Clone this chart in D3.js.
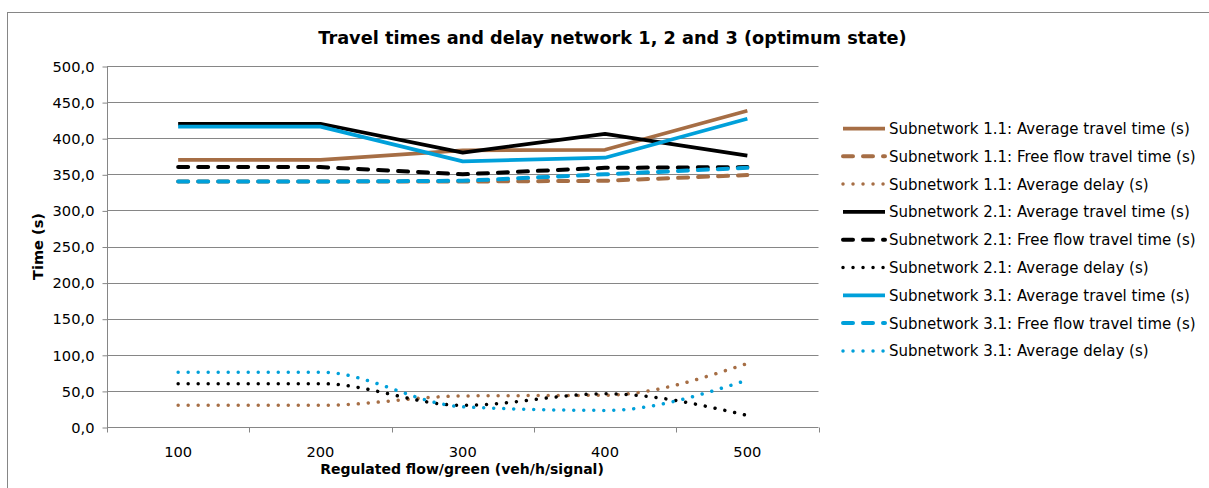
<!DOCTYPE html>
<html><head><meta charset="utf-8">
<script src="https://cdn.jsdelivr.net/npm/d3@7"></script>
<style>
html,body{margin:0;padding:0;background:#fff;}
svg{display:block;font-family:"DejaVu Sans",Verdana,sans-serif;}
</style></head>
<body><svg id="c" width="1209" height="488"></svg>
<script>
const categories = [100, 200, 300, 400, 500];
const yTicks = [0, 50, 100, 150, 200, 250, 300, 350, 400, 450, 500];
const s11Avg   = [370, 370, 383, 384, 438];
const s11Free  = [340, 340, 340, 341, 349];
const s11Delay = [30, 30, 43, 44, 88];
const s21Avg   = [420, 420, 380, 406, 376];
const s21Free  = [360, 360, 350, 359, 360];
const s21Delay = [60, 60, 30, 46, 16];
const s31Avg   = [416, 416, 368, 373, 427];
const s31Free  = [340, 340, 341, 350, 359];
const s31Delay = [76, 76, 28, 23, 65];
const seriesNames = [
  "Subnetwork 1.1: Average travel time (s)",
  "Subnetwork 1.1: Free flow travel time (s)",
  "Subnetwork 1.1: Average delay (s)",
  "Subnetwork 2.1: Average travel time (s)",
  "Subnetwork 2.1: Free flow travel time (s)",
  "Subnetwork 2.1: Average delay (s)",
  "Subnetwork 3.1: Average travel time (s)",
  "Subnetwork 3.1: Free flow travel time (s)",
  "Subnetwork 3.1: Average delay (s)"
];
const title = "Travel times and delay network 1, 2 and 3 (optimum state)";
const xTitle = "Regulated flow/green (veh/h/signal)";
const yTitle = "Time (s)";

const BROWN = "#A66E45", BLACK = "#000000", BLUE = "#00A0DA";
const values = [s11Avg, s11Free, s11Delay, s21Avg, s21Free, s21Delay, s31Avg, s31Free, s31Delay];
const colors = [BROWN, BROWN, BROWN, BLACK, BLACK, BLACK, BLUE, BLUE, BLUE];
const kinds = ["solid","dash","dot","solid","dash","dot","solid","dash","dot"];

const svg = d3.select("#c");

// size fitting: scale font so a given text reaches target width
function fitSize(str, bold, target) {
  const t = svg.append("text").attr("font-size", 100).attr("font-weight", bold ? "bold" : "normal").text(str);
  const w = t.node().getComputedTextLength();
  t.remove();
  return 100 * target / w;
}
const titleSize = fitSize(title, true, 589);
const xTitleSize = fitSize(xTitle, true, 284);
const yTitleSize = fitSize(yTitle, true, 67);
const legendSize = fitSize(seriesNames[1], false, 307);
const tickSize = fitSize("500,0", false, 42);

// outer border
svg.append("rect").attr("x", 7.5).attr("y", 12.5).attr("width", 1220).attr("height", 500)
  .attr("fill", "#fff").attr("stroke", "#868686").attr("stroke-width", 1);

const L = 107, R = 818.5, T = 66, B = 427;
const x = d3.scaleBand().domain(categories).range([L, R]);
const y = d3.scaleLinear().domain([0, 500]).range([B, T]);
const cx = v => x(v) + x.bandwidth() / 2;

// gridlines
svg.append("g").selectAll("line").data(yTicks.filter(d => d > 0)).join("line")
  .attr("x1", L).attr("x2", R).attr("y1", d => Math.round(y(d)) + 0.5).attr("y2", d => Math.round(y(d)) + 0.5)
  .attr("stroke", "#868686").attr("stroke-width", 1);

// y axis
const fmt = d => d3.format(".1f")(d).replace(".", ",");
const yAxis = svg.append("g").attr("transform", `translate(${L + 0.5},0.5)`)
  .call(d3.axisLeft(y).tickValues(yTicks).tickFormat(fmt).tickSize(5).tickPadding(8));
yAxis.select(".domain").attr("stroke", "#868686").attr("d", `M0,${T}V${B}`);
yAxis.selectAll(".tick line").attr("stroke", "#868686");
yAxis.selectAll(".tick text").attr("font-size", tickSize).attr("fill", "#000")
  .attr("font-family", "\"DejaVu Sans\",Verdana,sans-serif");

// x axis
const xAxisG = svg.append("g").attr("transform", `translate(0,${Math.round(B) + 0.5})`);
xAxisG.append("line").attr("x1", L).attr("x2", R).attr("stroke", "#868686");
const bounds = categories.map(c => x(c)).concat([R]);
xAxisG.selectAll("line.tk").data(bounds).join("line").attr("class", "tk")
  .attr("x1", d => Math.round(d) + 0.5).attr("x2", d => Math.round(d) + 0.5).attr("y1", 0).attr("y2", 5)
  .attr("stroke", "#868686");
xAxisG.selectAll("text").data(categories).join("text")
  .attr("x", d => cx(d)).attr("y", 29).attr("text-anchor", "middle").attr("font-size", tickSize).text(d => d);

// titles
svg.append("text").attr("x", 612.5).attr("y", 44).attr("text-anchor", "middle")
  .attr("font-weight", "bold").attr("font-size", titleSize).text(title);
svg.append("text").attr("x", 462).attr("y", 474).attr("text-anchor", "middle")
  .attr("font-weight", "bold").attr("font-size", xTitleSize).text(xTitle);
svg.append("text").attr("transform", `translate(43,246.5) rotate(-90)`).attr("text-anchor", "middle")
  .attr("font-weight", "bold").attr("font-size", yTitleSize).text(yTitle);

function styleLine(sel, kind, color) {
  sel.attr("fill", "none").attr("stroke", color);
  if (kind === "solid") sel.attr("stroke-width", 3.75).attr("stroke-linejoin", "round");
  else if (kind === "dash") sel.attr("stroke-width", 4).attr("stroke-dasharray", "10 10").attr("stroke-linecap", "round");
  else sel.attr("stroke-width", 3.5).attr("stroke-dasharray", "0.01 10").attr("stroke-linecap", "round");
}

const lineStraight = d3.line().x((d, i) => cx(categories[i])).y(d => y(d));
const lineSmooth = d3.line().x((d, i) => cx(categories[i])).y(d => y(d)).curve(d3.curveMonotoneX);

values.forEach((vals, i) => {
  const gen = kinds[i] === "dot" ? lineSmooth : lineStraight;
  svg.append("path").datum(vals).attr("d", gen).call(styleLine, kinds[i], colors[i]);
});

// legend
const lg = svg.append("g");
seriesNames.forEach((name, i) => {
  const ly = 128.5 + i * 27.8;
  lg.append("line").attr("x1", 843).attr("x2", 885).attr("y1", ly).attr("y2", ly)
    .call(styleLine, kinds[i], colors[i]);
  lg.append("text").attr("x", 889).attr("y", ly + legendSize * 0.36).attr("font-size", legendSize).text(name);
});
</script></body></html>
